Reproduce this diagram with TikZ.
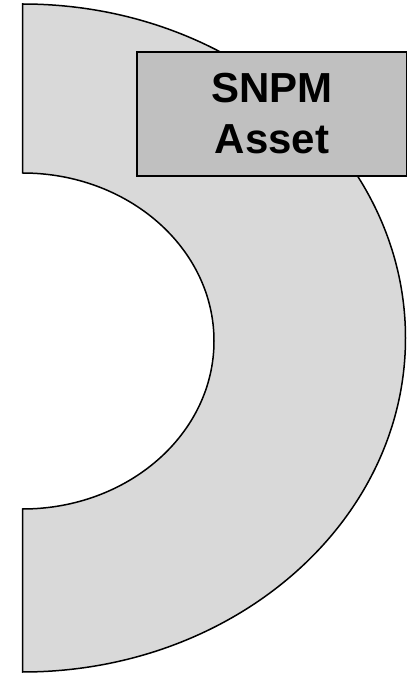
\documentclass[tikz,border=0pt]{standalone}
\usepackage{fontspec}
\setmainfont{Liberation Sans}
\definecolor{ringgray}{HTML}{D9D9D9}
\definecolor{boxgray}{HTML}{C0C0C0}
\tikzset{
  ring/.style={fill=ringgray, draw=black, line width=1.5pt},
  assetbox/.style={fill=boxgray, draw=black, line width=1.6pt, minimum width=270pt, minimum height=124pt, inner sep=0pt,
    align=center, font=\fontsize{42}{51}\selectfont\bfseries}
}
\begin{document}
\begin{tikzpicture}[x=1pt,y=1pt]
\useasboundingbox (0,0) rectangle (407,673);
\draw[ring] (22.5,669) arc[start angle=90, end angle=-90, x radius=383, y radius=334]
  -- (22.5,164) arc[start angle=-90, end angle=90, x radius=191.5, y radius=168] -- cycle;
\node[assetbox] (asset) at (272,559) {SNPM\\Asset};
\end{tikzpicture}
\end{document}
